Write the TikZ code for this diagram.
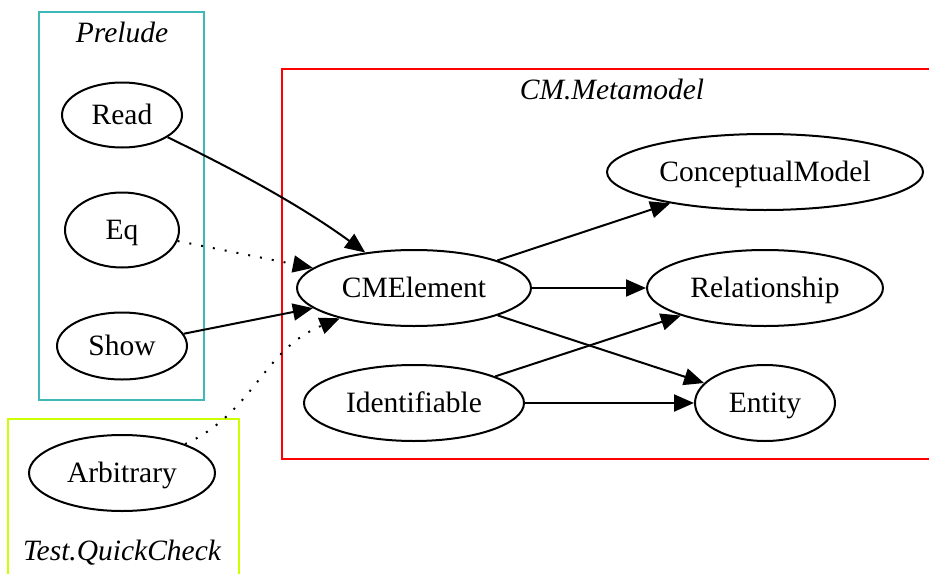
\documentclass[tikz,border=0pt]{standalone}
\usepackage{fontspec}
\setmainfont{Liberation Serif}
\usetikzlibrary{shapes.geometric,arrows.meta}
\definecolor{preludec}{RGB}{64,184,184}
\definecolor{qcc}{RGB}{204,255,0}
\definecolor{cmc}{RGB}{255,0,0}
\tikzset{
  every node/.style={font=\fontsize{29.5}{35}\selectfont},
  ell/.style={ellipse, draw=black, line width=2pt, inner sep=0pt, text height=19.5pt, text depth=0pt},
  clus/.style={line width=2pt},
  clabel/.style={font=\fontsize{29.5}{35}\selectfont\itshape, text height=19.5pt, text depth=0pt},
  edge/.style={line width=2pt, -{Triangle[length=20pt,width=17pt]}},
  dotedge/.style={edge, dash pattern=on 2pt off 10pt}
}
\begin{document}
\begin{tikzpicture}[x=1pt,y=-1pt]
\useasboundingbox (0,0) rectangle (929,573);
\clip (0,0) rectangle (929,573);
% clusters
\draw[clus, preludec] (39,12) rectangle (204,400);
\node[clabel] (lprelude) at (122,33) {Prelude};
\draw[clus, qcc] (8,419) rectangle (239,580);
\node[clabel] (lqc) at (122,551) {Test.QuickCheck};
\draw[clus, cmc] (282,69) rectangle (940,459);
\node[clabel] (lcm) at (612,90) {CM.Metamodel};
% nodes
\node[ell, minimum width=120pt, minimum height=65pt] (read) at (122,115) {Read};
\node[ell, minimum width=114pt, minimum height=75pt] (eq) at (122,230) {Eq};
\node[ell, minimum width=130pt, minimum height=67pt] (show) at (122,346) {Show};
\node[ell, minimum width=186pt, minimum height=76pt] (arb) at (122,473) {Arbitrary};
\node[ell, minimum width=234pt, minimum height=76pt] (cme) at (414,288) {CMElement};
\node[ell, minimum width=316pt, minimum height=76pt] (cm) at (765,172) {ConceptualModel};
\node[ell, minimum width=236pt, minimum height=76pt] (rel) at (765,288) {Relationship};
\node[ell, minimum width=220pt, minimum height=76pt] (ident) at (414,403) {Identifiable};
\node[ell, minimum width=140pt, minimum height=76pt] (ent) at (765,403) {Entity};
% edges
\draw[edge] (read) .. controls (235,170) and (300,205) .. (cme);
\draw[dotedge] (eq) -- (cme);
\draw[edge] (show) -- (cme);
\draw[dotedge] (arb) .. controls (255,412) and (262,350) .. (cme);
\draw[edge] (cme) -- (cm);
\draw[edge] (cme) -- (rel);
\draw[edge] (cme) -- (ent);
\draw[edge] (ident) -- (rel);
\draw[edge] (ident) -- (ent);
\end{tikzpicture}
\end{document}
